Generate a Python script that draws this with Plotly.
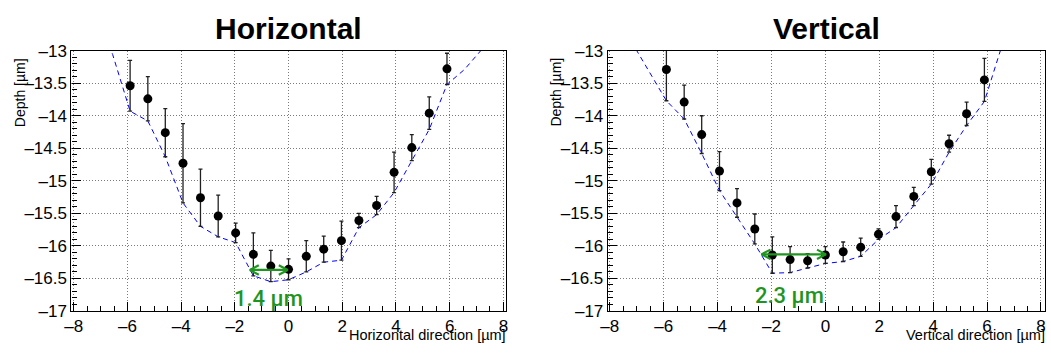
import plotly.graph_objects as go

# Measured profile positions (same grid for both scans), in µm
pos = [-5.9, -5.24, -4.59, -3.93, -3.28, -2.62, -1.97, -1.31, -0.66, 0.0,
       0.66, 1.31, 1.97, 2.62, 3.28, 3.93, 4.59, 5.24, 5.9]

# Horizontal scan: depth and uncertainty
depth_h = [-13.54, -13.74, -14.26, -14.73, -15.26, -15.54, -15.80, -16.13, -16.31, -16.36,
           -16.16, -16.05, -15.92, -15.61, -15.38, -14.87, -14.49, -13.96, -13.28]
err_h = [0.39, 0.34, 0.37, 0.61, 0.44, 0.32, 0.15, 0.33, 0.24, 0.16,
         0.24, 0.20, 0.30, 0.11, 0.14, 0.31, 0.20, 0.25, 0.24]

# Vertical scan: depth and uncertainty
depth_v = [-13.29, -13.79, -14.29, -14.85, -15.34, -15.74, -16.14, -16.21, -16.23, -16.14,
           -16.09, -16.02, -15.82, -15.55, -15.24, -14.86, -14.43, -13.97, -13.45]
err_v = [0.48, 0.26, 0.29, 0.30, 0.22, 0.23, 0.28, 0.20, 0.11, 0.13,
         0.15, 0.14, 0.08, 0.17, 0.14, 0.19, 0.13, 0.18, 0.33]

# Reference profile (blue dashed)
ref_x = [-7.2, -6.55, -5.9, -5.24, -4.59, -3.93, -3.28, -2.62, -1.97, -1.31, -0.66, 0.0,
         0.66, 1.31, 1.97, 2.62, 3.28, 3.93, 4.59, 5.24, 5.9, 6.55, 7.2, 7.86]
ref_h = [-12.4, -13.06, -13.93, -14.08, -14.63, -15.34, -15.70, -15.86, -15.95, -16.46, -16.55, -16.52,
         -16.40, -16.25, -16.22, -15.72, -15.52, -15.18, -14.69, -14.21, -13.52, -13.29, -12.98, -12.5]
ref_v = [-12.86, -13.31, -13.77, -14.05, -14.58, -15.15, -15.56, -15.97, -16.42, -16.41, -16.34, -16.27,
         -16.24, -16.16, -15.90, -15.72, -15.38, -15.05, -14.56, -14.15, -13.78, -12.89, -12.0, -11.2]

# Width markers: [left end, right end, depth], label
width_h = [-1.44, -0.03, -16.37]
width_v = [-2.37, 0.02, -16.13]
label_h = "1.4 µm"
label_v = "2.3 µm"
label_pos_h = [-0.76, -16.81]
label_pos_v = [-1.35, -16.76]

# Tick labels
xtick_vals = [-8, -6, -4, -2, 0, 2, 4, 6, 8]
xtick_text = ["–8", "–6", "–4", "–2", "0", "2", "4", "6", "8"]
ytick_vals = [-13, -13.5, -14, -14.5, -15, -15.5, -16, -16.5, -17]
ytick_text = ["–13", "–13.5", "–14", "–14.5", "–15", "–15.5", "–16", "–16.5", "–17"]

titles = ["Horizontal", "Vertical"]
xtitles = ["Horizontal direction [µm]", "Vertical direction [µm]"]
ytitle = "Depth [µm]"

W, H = 1051, 356
FONT = "Liberation Sans, Arial, sans-serif"
GREEN = "#1f951f"

# Plot frames in pixels (left, right), shared top/bottom
frames = [(65, 503.5), (606, 1047)]
top_px, bot_px = 44, 319
xranges = [[-8.085, 8.105], [-8.074, 8.15]]

# arrow-head size in pixels (length along the arrow, half-height)
HEAD_LEN, HEAD_HALF = 9, 5

fig = go.Figure()

panels = [
    (depth_h, err_h, ref_h, width_h, label_h, label_pos_h),
    (depth_v, err_v, ref_v, width_v, label_v, label_pos_v),
]

for i, (dep, err, ref, wd, lab, lpos) in enumerate(panels):
    xa = "x" if i == 0 else "x2"
    ya = "y" if i == 0 else "y2"
    l, r = frames[i]
    px_per_x = (r - l) / (xranges[i][1] - xranges[i][0])
    px_per_y = (bot_px - top_px) / 4.0
    hx = HEAD_LEN / px_per_x
    hy = HEAD_HALF / px_per_y

    fig.add_trace(go.Scatter(
        x=ref_x, y=ref, mode="lines", xaxis=xa, yaxis=ya,
        line=dict(color="#0000ff", width=1, dash="5px,4px"),
        hoverinfo="skip", showlegend=False))
    fig.add_trace(go.Scatter(
        x=pos, y=dep, mode="markers", xaxis=xa, yaxis=ya,
        marker=dict(color="black", size=9),
        error_y=dict(type="data", array=err, visible=True, color="#202020",
                     thickness=1.3, width=2),
        showlegend=False))

    # double-headed width arrow with open heads
    x0, x1, yv = wd
    fig.add_trace(go.Scatter(
        x=[x0, x1, None, x0 + hx, x0, x0 + hx, None, x1 - hx, x1, x1 - hx],
        y=[yv, yv, None, yv + hy, yv, yv - hy, None, yv + hy, yv, yv - hy],
        mode="lines", xaxis=xa, yaxis=ya,
        line=dict(color=GREEN, width=2.2), hoverinfo="skip", showlegend=False))
    fig.add_annotation(
        xref=xa, yref=ya, x=lpos[0], y=lpos[1], text=lab, showarrow=False,
        font=dict(family="Roboto, " + FONT, size=22, color=GREEN, weight=500),
        xanchor="center", yanchor="middle")

    # panel title
    fig.add_annotation(
        xref="paper", yref="paper", x=(l + r) / 2 / W, y=1 - 21 / H,
        text=titles[i], showarrow=False, xanchor="center", yanchor="middle",
        font=dict(family=FONT, size=30, color="black", weight="bold"))
    # x axis title at the right end, below the tick labels
    fig.add_annotation(
        xref="paper", yref="paper", x=(r + 2) / W, y=0, yshift=1,
        text=xtitles[i], showarrow=False, xanchor="right", yanchor="bottom",
        font=dict(family=FONT, size=14.5, color="black"))
    # y axis title at the top end
    fig.add_annotation(
        xref="paper", yref="paper", x=(l - 52) / W, y=1 - 88 / H,
        text=ytitle, showarrow=False, textangle=-90, xanchor="center", yanchor="middle",
        font=dict(family=FONT, size=14, color="black"))

axis_common = dict(
    showline=True, linecolor="black", linewidth=1.2, mirror=True,
    ticks="inside", ticklen=9, tickwidth=1, tickcolor="black",
    showgrid=True, gridcolor="#7a7a7a", griddash="1px,2px", gridwidth=1,
    zeroline=False,
    tickfont=dict(family=FONT, size=17, color="black"),
)

for i in range(2):
    l, r = frames[i]
    xkey = "xaxis" if i == 0 else "xaxis2"
    ykey = "yaxis" if i == 0 else "yaxis2"
    fig.update_layout(**{
        xkey: dict(axis_common, domain=[l / W, r / W], range=xranges[i],
                   tickmode="array", tickvals=xtick_vals, ticktext=xtick_text,
                   anchor="y" if i == 0 else "y2",
                   minor=dict(ticks="inside", ticklen=5, dtick=0.5, tickcolor="black",
                              showgrid=False)),
        ykey: dict(axis_common, domain=[1 - bot_px / H, 1 - top_px / H], range=[-17, -13],
                   tickmode="array", tickvals=ytick_vals, ticktext=ytick_text,
                   anchor="x" if i == 0 else "x2",
                   minor=dict(ticks="inside", ticklen=5, dtick=0.1, tickcolor="black",
                              showgrid=False)),
    })

fig.update_layout(
    width=W, height=H, autosize=False,
    margin=dict(l=0, r=0, t=0, b=0),
    paper_bgcolor="white", plot_bgcolor="white",
    showlegend=False,
)

fig.write_html("out.html")
